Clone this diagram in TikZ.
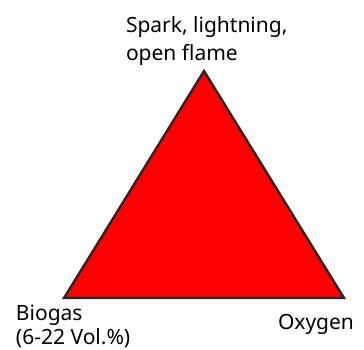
\documentclass[tikz,border=0pt]{standalone}
\usepackage{fontspec}
\setmainfont{Noto Sans}
\begin{document}
\begin{tikzpicture}[x=1pt,y=-1pt,
  label/.style={inner sep=0pt, outer sep=0pt, align=left, anchor=base west},
  hazard/.style={fill=red, draw=black!85, line width=2.4pt, line join=miter}]
  \useasboundingbox (0,0) rectangle (364,350);
  % fire triangle
  \coordinate (top) at (204,71);
  \coordinate (left) at (64,298);
  \coordinate (right) at (344,298);
  \draw[hazard] (top) -- (right) -- (left) -- cycle;
  % corner labels (anchored on the baseline of their last line)
  \node[label, font=\fontsize{21}{28}\selectfont] (ign) at (126,61) {Spark, lightning,\\open flame};
  \node[label, font=\fontsize{21}{24}\selectfont] (fuel) at (16,344.5) {Biogas\\(6-22 Vol.\%)};
  \node[label, font=\fontsize{21}{25}\selectfont] (oxy) at (278,329) {Oxygen};
\end{tikzpicture}
\end{document}
